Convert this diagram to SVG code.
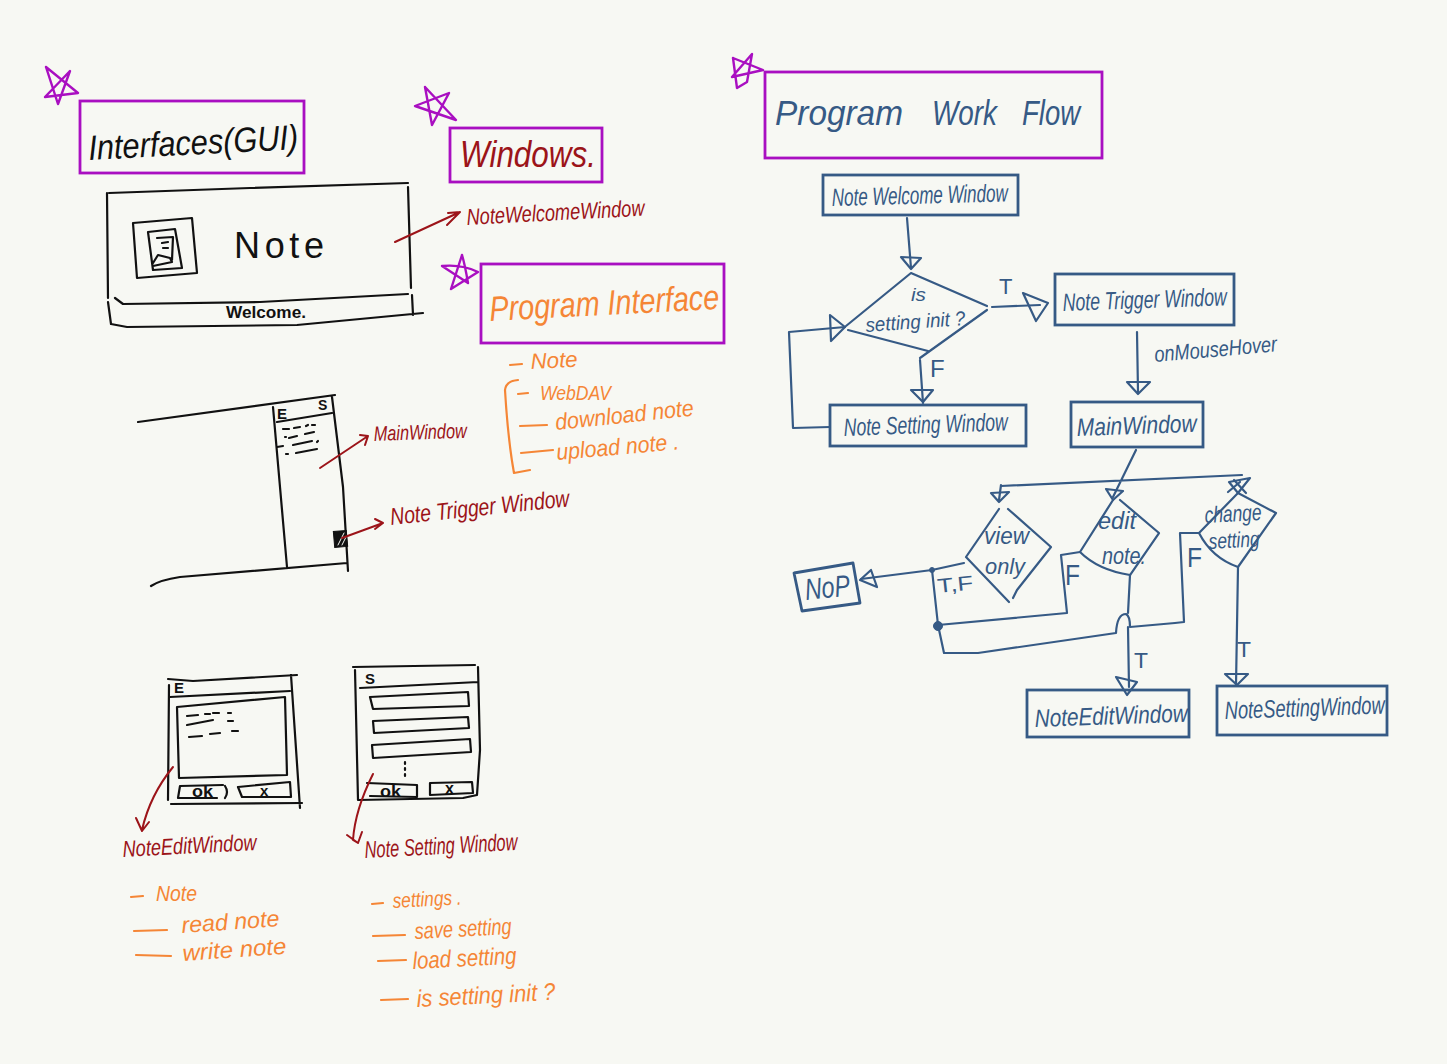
<svg xmlns="http://www.w3.org/2000/svg" width="1447" height="1064" viewBox="0 0 1447 1064">
<style>
text{font-family:"Liberation Sans",Arial,sans-serif;font-style:italic;stroke:none}
path,polygon,polyline{fill:none;stroke-linecap:round;stroke-linejoin:round}
rect{fill:none;stroke-linejoin:miter}
.bg{fill:#f7f8f3;stroke:none}
.k{stroke:#111;stroke-width:2.2}
.kt{fill:#111}
.r{stroke:#9c1419;stroke-width:2}
.rt{fill:#9c1419}
.o{stroke:#f58636;stroke-width:2.2}
.ot{fill:#f58636}
.b{stroke:#365a85;stroke-width:2.2}
.bb{stroke:#365a85;stroke-width:2.8}
.bt{fill:#365a85}
.p{stroke:#a90fc1;stroke-width:2.8}
.ps{stroke:#a90fc1;stroke-width:2.4}
.dot{fill:#365a85;stroke:#365a85}
.up{font-style:normal}
.solid{fill:#111;stroke:#111;stroke-width:1}
.hatch{stroke:#f7f8f3;stroke-width:1}
</style>
<rect class="bg" width="1447" height="1064"/>

<g id="star-interfaces"><path class="ps" d="M46,67L78,93L45,97L70,71L58,104L46,67"/></g>
<g id="title-interfaces"><rect class="p" x="80" y="101" width="224" height="72"/><text class="kt" x="89" y="160" font-size="35" textLength="210" lengthAdjust="spacingAndGlyphs" transform="rotate(-3 89 160)">Interfaces(GUI)</text></g>
<g id="star-windows"><path class="ps" d="M425,87L456,120L415,106L449,93L432,125L425,87"/></g>
<g id="title-windows"><rect class="p" x="450" y="128" width="152" height="54"/><text class="rt" x="460" y="167" font-size="36" textLength="136" lengthAdjust="spacingAndGlyphs">Windows.</text></g>
<g id="star-program-interface"><path class="ps" d="M462,255L451,289L478,272Q462,264 442,266L468,283Q465,265 462,255"/></g>
<g id="title-program-interface"><rect class="p" x="481" y="264" width="243" height="79"/><text class="ot" x="490" y="321" font-size="35" textLength="230" lengthAdjust="spacingAndGlyphs" transform="rotate(-3 490 321)">Program Interface</text></g>
<g id="star-workflow"><path class="ps" d="M733,58L763,70L732,77L752,54L747,82L737,88L733,58"/></g>
<g id="title-workflow"><rect class="p" x="765" y="72" width="337" height="86"/><text class="bt" font-size="35" y="125"><tspan x="775" textLength="128" lengthAdjust="spacingAndGlyphs">Program</tspan><tspan x="932" textLength="65" lengthAdjust="spacingAndGlyphs">Work</tspan><tspan x="1022" textLength="58" lengthAdjust="spacingAndGlyphs">Flow</tspan></text></g>

<g id="sketch-welcome">
<path class="k" d="M109,193L250,188L408,183M107,193L108,298M108,302L111,324L127,327L297,325L423,313M408,187L411,288M412,295L413,315M115,298L123,304L260,302L408,294"/>
<path class="k" d="M133,223L192,218L197,273L137,278Z"/>
<path class="k" d="M148,232L175,229L182,268L153,270ZM157,238L173,237L172,260M153,263L158,255L170,258L172,262L153,266M162,243L168,242M163,248L168,248"/>
<text class="kt up" x="234" y="258" font-size="36" letter-spacing="8" textLength="98">Note</text>
<text class="kt up" x="226" y="318" font-size="17" font-weight="bold" textLength="80" lengthAdjust="spacingAndGlyphs">Welcome.</text>
</g>
<g id="label-welcome"><text class="rt" x="467" y="225" font-size="23" textLength="178" lengthAdjust="spacingAndGlyphs" transform="rotate(-3 467 225)">NoteWelcomeWindow</text></g>

<g id="sketch-main">
<path class="k" d="M138,422L335,395M273,407L287,567M332,397L343,487L348,571M277,422L332,413M151,586Q160,580 180,577L347,563"/>
<path class="k" d="M283,429L289,429M294,428L300,427M306,426L308,425M312,425L315,425M285,437L286,437M289,438L297,436M305,434L314,432M277,447L283,446M293,445L312,441M317,442L318,441M286,454L288,454M296,453L317,449"/>
<text class="kt up" x="277" y="419" font-size="15" font-weight="bold">E</text>
<text class="kt up" x="318" y="410" font-size="14" font-weight="bold">S</text>
<rect class="solid" x="334" y="531" width="13" height="16" transform="rotate(-5 340 539)"/>
<path class="hatch" d="M338,545L344,533M342,545L346,537"/>
</g>
<g id="label-main"><text class="rt" x="374" y="441" font-size="21" textLength="93" lengthAdjust="spacingAndGlyphs" transform="rotate(-2 374 441)">MainWindow</text></g>
<g id="label-trigger"><text class="rt" x="391" y="525" font-size="24" textLength="180" lengthAdjust="spacingAndGlyphs" transform="rotate(-6 391 525)">Note Trigger Window</text></g>

<g id="sketch-edit">
<path class="k" d="M168,679L193,681L297,675M169,685L168,800M171,804L302,803M291,675L300,808M170,697L290,691"/>
<path class="k" d="M177,707L285,697L287,775L179,778Z"/>
<path class="k" d="M187,716L198,715M205,714L210,714M213,713L219,713M228,713L231,713M187,725L213,720M228,721L233,721M189,737L202,736M210,734L220,733M232,731L238,731"/>
<path class="k" d="M180,786L178,798L217,798M180,786L223,785M225,786Q229,792 225,798M238,787L290,782L291,797L242,797Z"/>
<text class="kt up" x="174" y="693" font-size="15" font-weight="bold">E</text>
<text class="kt up" x="192" y="797" font-size="16" font-weight="bold" textLength="21" lengthAdjust="spacingAndGlyphs">ok</text>
<text class="kt up" x="260" y="796" font-size="15" font-weight="bold">x</text>
</g>
<g id="label-edit"><text class="rt" x="123" y="857" font-size="23" textLength="134" lengthAdjust="spacingAndGlyphs" transform="rotate(-3 123 857)">NoteEditWindow</text></g>

<g id="sketch-setting">
<path class="k" d="M353,667L475,665M355,670L358,800L463,798L477,795L480,750L478,667M360,688L478,682"/>
<path class="k" d="M370,697L468,692L469,706L373,709ZM373,721L468,717L469,728L374,733ZM372,745L470,739L471,752L373,758ZM405,762L405,764M405,768L405,770M405,774L405,776"/>
<path class="k" d="M367,783L417,785L417,797L370,796M430,783L472,782L473,793L430,795Z"/>
<text class="kt up" x="365" y="684" font-size="15" font-weight="bold">S</text>
<text class="kt up" x="380" y="797" font-size="16" font-weight="bold" textLength="21" lengthAdjust="spacingAndGlyphs">ok</text>
<text class="kt up" x="445" y="794" font-size="16" font-weight="bold">x</text>
</g>
<g id="label-setting"><text class="rt" x="365" y="858" font-size="24" textLength="153" lengthAdjust="spacingAndGlyphs" transform="rotate(-3 365 858)">Note Setting Window</text></g>

<g id="notes-program-interface">
<path class="o" d="M510,365L522,364M518,380Q506,381 505,390Q508,440 514,473L530,470M518,394L528,393M520,426L547,425M521,453L553,450"/>
<text class="ot" x="531" y="369" font-size="22" textLength="47" lengthAdjust="spacingAndGlyphs" transform="rotate(-3 531 369)">Note</text>
<text class="ot" x="540" y="400" font-size="21" textLength="71" lengthAdjust="spacingAndGlyphs">WebDAV</text>
<text class="ot" x="556" y="430" font-size="23" textLength="139" lengthAdjust="spacingAndGlyphs" transform="rotate(-6 556 430)">download note</text>
<text class="ot" x="557" y="460" font-size="23" textLength="123" lengthAdjust="spacingAndGlyphs" transform="rotate(-5 557 460)">upload note .</text>
</g>
<g id="notes-edit">
<path class="o" d="M131,897L143,896M134,931L167,930M136,955L171,956"/>
<text class="ot" x="156" y="901" font-size="22" textLength="41" lengthAdjust="spacingAndGlyphs">Note</text>
<text class="ot" x="182" y="933" font-size="23" textLength="98" lengthAdjust="spacingAndGlyphs" transform="rotate(-4 182 933)">read note</text>
<text class="ot" x="183" y="961" font-size="23" textLength="104" lengthAdjust="spacingAndGlyphs" transform="rotate(-4 183 961)">write note</text>
</g>
<g id="notes-setting">
<path class="o" d="M372,904L383,903M373,936L405,935M378,961L406,960M381,1000L408,999"/>
<text class="ot" x="393" y="908" font-size="21" textLength="69" lengthAdjust="spacingAndGlyphs" transform="rotate(-3 393 908)">settings .</text>
<text class="ot" x="415" y="939" font-size="23" textLength="97" lengthAdjust="spacingAndGlyphs" transform="rotate(-3 415 939)">save setting</text>
<text class="ot" x="413" y="969" font-size="24" textLength="104" lengthAdjust="spacingAndGlyphs" transform="rotate(-3 413 969)">load setting</text>
<text class="ot" x="417" y="1007" font-size="24" textLength="139" lengthAdjust="spacingAndGlyphs" transform="rotate(-3 417 1007)">is setting init ?</text>
</g>

<g id="node-welcome"><rect class="bb" x="823" y="175" width="195" height="40"/><text class="bt" x="832" y="206" font-size="25" textLength="176" lengthAdjust="spacingAndGlyphs" transform="rotate(-1.5 832 206)">Note Welcome Window</text></g>
<g id="node-trigger"><rect class="bb" x="1055" y="274" width="179" height="51"/><text class="bt" x="1063" y="311" font-size="25" textLength="164" lengthAdjust="spacingAndGlyphs" transform="rotate(-2 1063 311)">Note Trigger Window</text></g>
<g id="node-setting"><rect class="bb" x="830" y="405" width="196" height="41"/><text class="bt" x="844" y="436" font-size="25" textLength="164" lengthAdjust="spacingAndGlyphs" transform="rotate(-2 844 436)">Note Setting Window</text></g>
<g id="node-main"><rect class="bb" x="1071" y="402" width="132" height="45"/><text class="bt" x="1077" y="436" font-size="25" textLength="120" lengthAdjust="spacingAndGlyphs" transform="rotate(-2 1077 436)">MainWindow</text></g>
<g id="node-init">
<path class="b" d="M846,326L911,273L987,306M987,310L920,358M848,330L928,351"/>
<text class="bt" x="911" y="301" font-size="18" textLength="15" lengthAdjust="spacingAndGlyphs">is</text>
<text class="bt" x="866" y="332" font-size="20" textLength="100" lengthAdjust="spacingAndGlyphs" transform="rotate(-4 866 332)">setting init ?</text>
</g>
<g id="node-view">
<path class="b" d="M999,509L966,557L1009,602M1008,509L1051,547L1017,590L1013,598"/>
<text class="bt" x="984" y="544" font-size="24" textLength="45" lengthAdjust="spacingAndGlyphs">view</text>
<text class="bt" x="985" y="574" font-size="22" textLength="40" lengthAdjust="spacingAndGlyphs">only</text>
</g>
<g id="node-edit">
<path class="b" d="M1113,500L1080,552Q1098,570 1130,575L1159,533L1120,500"/>
<text class="bt" x="1098" y="529" font-size="24" textLength="38" lengthAdjust="spacingAndGlyphs">edit</text>
<text class="bt" x="1102" y="564" font-size="23" textLength="44" lengthAdjust="spacingAndGlyphs">note.</text>
</g>
<g id="node-change">
<path class="b" d="M1238,493L1199,533Q1212,558 1238,567L1276,513L1238,493"/>
<text class="bt" x="1205" y="523" font-size="23" textLength="57" lengthAdjust="spacingAndGlyphs" transform="rotate(-3 1205 523)">change</text>
<text class="bt" x="1209" y="549" font-size="22" textLength="51" lengthAdjust="spacingAndGlyphs" transform="rotate(-3 1209 549)">setting</text>
</g>
<g id="node-nop"><path class="bb" d="M794,573L853,563L860,603L802,611Z"/><text class="bt" x="806" y="600" font-size="30" textLength="45" lengthAdjust="spacingAndGlyphs" transform="rotate(-6 806 600)">NoP</text></g>
<g id="node-edit-window"><rect class="bb" x="1027" y="690" width="162" height="47"/><text class="bt" x="1035" y="727" font-size="25" textLength="153" lengthAdjust="spacingAndGlyphs" transform="rotate(-2 1035 727)">NoteEditWindow</text></g>
<g id="node-setting-window"><rect class="bb" x="1217" y="686" width="170" height="49"/><text class="bt" x="1225" y="719" font-size="25" textLength="160" lengthAdjust="spacingAndGlyphs" transform="rotate(-2 1225 719)">NoteSettingWindow</text></g>

<g id="connectors">
<path class="r" d="M395,242L460,212M448,213L460,212L447,225"/>
<path class="r" d="M320,468L368,436M360,435L368,436L365,445"/>
<path class="r" d="M342,538L383,523M375,519L383,523L375,529"/>
<path class="r" d="M173,767Q150,795 142,830M136,818L142,831L149,822"/>
<path class="r" d="M373,774Q355,810 353,840L358,843M347,835L358,843L362,832"/>

<path class="b" d="M907,218L911,268"/><polygon class="b" points="901,257 921,258 911,269"/>
<path class="b" d="M992,307L1040,305"/><polygon class="b" points="1023,293 1048,303 1036,321"/>
<path class="b" d="M1137,332L1138,392"/><polygon class="b" points="1127,382 1150,382 1138,394"/>
<path class="b" d="M920,360L923,403"/><polygon class="b" points="911,390 933,390 923,402"/>
<path class="b" d="M830,427L793,428L789,332L845,327"/><polygon class="b" points="830,315 845,327 831,341"/>
<text class="bt up" x="999" y="294" font-size="22">T</text>
<text class="bt up" x="930" y="377" font-size="24">F</text>
<text class="bt" x="1155" y="362" font-size="22" textLength="123" lengthAdjust="spacingAndGlyphs" transform="rotate(-5 1155 362)">onMouseHover</text>

<path class="b" d="M1136,450L1113,497M1001,486L1242,475"/>
<path class="b" d="M1001,485L999,500"/><polygon class="b" points="991,493 1009,492 999,502"/>
<polygon class="b" points="1106,489 1123,491 1113,500"/>
<polygon class="b" points="1229,482 1250,478 1238,493"/><path class="b" d="M1234,480L1246,493M1240,482L1228,492"/>
<path class="b" d="M964,563L932,570L861,579"/><polygon class="b" points="877,587 871,570 860,580"/>
<path class="b" d="M932,570L938,625L944,653L978,653L1116,633Q1117,614 1126,614Q1130,616 1130,627L1175,623L1184,622L1180,533L1199,533"/>
<path class="b" d="M938,625L1067,613L1061,555L1080,552"/>
<circle class="dot" cx="932" cy="570" r="2.5"/><circle class="dot" cx="938" cy="626" r="4.5"/>
<path class="b" d="M1130,575L1128,613M1128,627L1129,687"/><polygon class="b" points="1116,677 1137,682 1127,695"/>
<path class="b" d="M1238,567L1236,685"/><polygon class="b" points="1225,674 1248,674 1237,685"/>
<text class="bt up" x="938" y="593" font-size="20" textLength="36" lengthAdjust="spacingAndGlyphs" transform="rotate(-6 938 593)">T,F</text>
<text class="bt up" x="1065" y="585" font-size="30" textLength="15" lengthAdjust="spacingAndGlyphs">F</text>
<text class="bt up" x="1187" y="567" font-size="28" textLength="15" lengthAdjust="spacingAndGlyphs">F</text>
<text class="bt up" x="1134" y="668" font-size="22" textLength="14" lengthAdjust="spacingAndGlyphs">T</text>
<text class="bt up" x="1237" y="657" font-size="22" textLength="14" lengthAdjust="spacingAndGlyphs">T</text>
</g>
</svg>
